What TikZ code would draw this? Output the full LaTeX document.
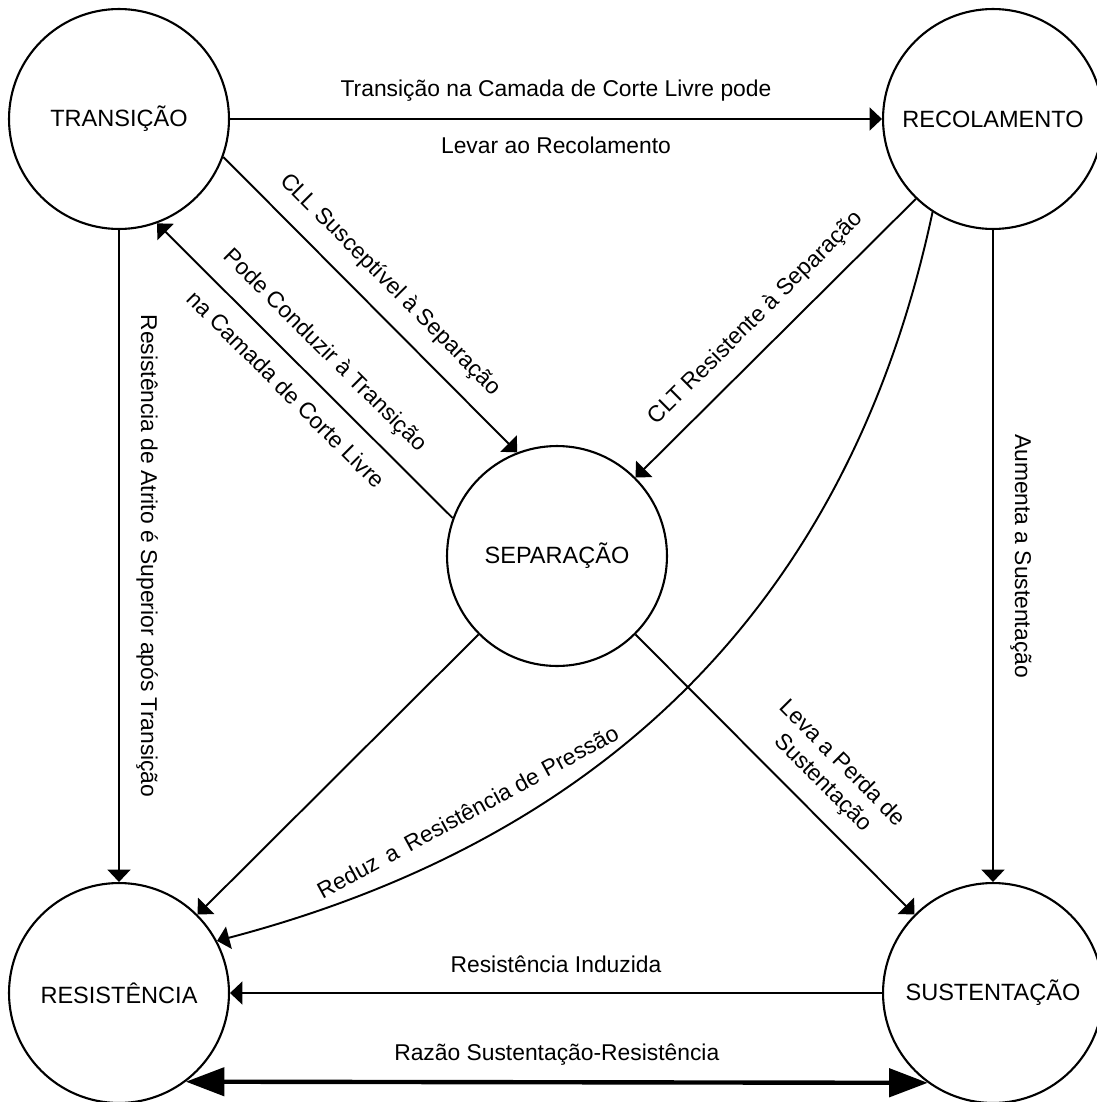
\documentclass[tikz,border=0pt]{standalone}
\usepackage{fontspec}
\setmainfont{Liberation Sans}
\usetikzlibrary{arrows.meta}

\tikzset{
	phase/.style={circle, draw, line width=1.2pt, minimum size=4.4cm, inner sep=0pt, font=\fontsize{13.4pt}{16pt}\selectfont},
	flow/.style={line width=1.1pt, -{Triangle[length=7pt,width=13pt]}},
	bigflow/.style={line width=2.5pt, {Triangle[length=22pt,width=16pt]}-{Triangle[length=22pt,width=16pt]}},
	lbl/.style={font=\fontsize{13pt}{15.6pt}\selectfont, inner sep=0pt, text height=10pt, text depth=3pt},
	lbltwo/.style={font=\fontsize{13pt}{15.6pt}\selectfont, inner sep=0pt, align=center}
}

\begin{document}
\begin{tikzpicture}
	[x=0.02cm,y=-0.02cm]
	\useasboundingbox (0,0) rectangle (1096,1102);
	\node[phase] (tra) at (119,119) {TRANSIÇÃO};
	\node[phase] (rec) at (993,119) {RECOLAMENTO};
	\node[phase] (sep) at (557,556) {SEPARAÇÃO};
	\node[phase] (res) at (119,993) {RESISTÊNCIA};
	\node[phase] (sus) at (993,993) {SUSTENTAÇÃO};
	
	\draw[flow] (tra) -- node[lbl, above=9pt] {Transição na Camada de Corte Livre pode} node[lbl, below=9pt] {Levar ao Recolamento} (rec);
	\draw[flow] (tra.-20.7) -- node[lbl, sloped, above=9pt] {CLL Susceptível à Separação} (sep.111.4);
	\draw[flow] (sep.160.4) -- node[lbl, sloped, above=9pt] {Pode Conduzir à Transição} node[lbl, sloped, below=9pt] {na Camada de Corte Livre} (tra.-70.7);
	\draw[flow] (rec.-134.6) -- node[lbl, sloped, above=9pt] {CLT Resistente à Separação} (sep.45);
	\draw[flow] (rec.-123.8) .. controls (850,600) and (608,838) .. node[lbl, pos=0.75, sloped, above=9pt] {Reduz\, a\, Resistência de Pressão} (res.28.9);
	\draw[flow] (rec) -- node[lbl, sloped, above=9pt] {Aumenta a Sustentação} (sus);
	\draw[flow] (tra) -- node[lbl, sloped, above=9pt] {Resistência de Atrito é Superior após Transição} (res);
	\draw[flow] (sep.-45) -- node[lbltwo, pos=0.6, sloped, above=9pt] {Leva a Perda de\\Sustentação} (sus.135);
	\draw[flow] (sus) -- node[lbl, above=8pt] {Resistência Induzida} (res);
	
	\foreach \from/\to in {sep.-135/res.45}
	\draw[flow] (\from) -- (\to);
	\draw[bigflow] (res.-53.1) -- node[lbl, above=8pt] {Razão Sustentação-Resistência} (sus.-126.9);
\end{tikzpicture}
\end{document}
